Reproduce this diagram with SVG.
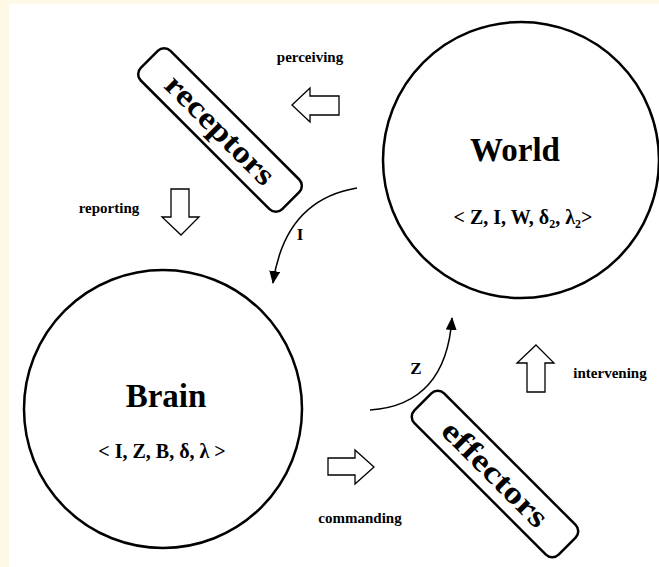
<svg xmlns="http://www.w3.org/2000/svg" width="659" height="567" viewBox="0 0 659 567">
<style>
.bg{fill:#fdf9e6}
.node{fill:#fff;stroke:#000;stroke-width:2.5}
.box{fill:#fff;stroke:#000;stroke-width:2.5}
.t{font-family:"Liberation Serif","Times New Roman",serif;font-weight:bold;fill:#000;text-anchor:middle}
.title{font-size:33px}
.sub{font-size:20px}
.boxt{font-size:31px}
.lab{font-size:15px}
.blk{fill:#fff;stroke:#000;stroke-width:1.3;stroke-linejoin:miter}
.arc{fill:none;stroke:#000;stroke-width:1.5}
</style>
<defs>
<marker id="ah" markerUnits="userSpaceOnUse" markerWidth="13" markerHeight="11" viewBox="0 0 13 11" refX="12" refY="5.5" orient="auto">
<path d="M0,0 L13,5.5 L0,11 Z" fill="#000"/>
</marker>
</defs>
<rect x="0" y="0" width="659" height="567" class="bg"/>
<rect x="9" y="4" width="650" height="563" fill="#fff"/>

<g id="world">
<circle cx="521" cy="160" r="138" class="node"/>
<text x="515" y="161" class="t title">World</text>
<text x="523" y="224" class="t sub" font-size="19px">&lt; Z, I, W, δ<tspan font-size="12" dy="4">2</tspan><tspan dy="-4">, λ</tspan><tspan font-size="12" dy="4">2</tspan><tspan dy="-4">&gt;</tspan></text>
</g>

<g id="brain">
<circle cx="163" cy="409" r="139" class="node"/>
<text x="166" y="407" class="t title">Brain</text>
<text x="162" y="458" class="t sub">&lt; I, Z, B, δ, λ &gt;</text>
</g>

<g id="receptors">
<g transform="translate(220,130) rotate(45)">
<rect x="-100" y="-21" width="200" height="42" rx="9" class="box"/>
<text x="0" y="10" class="t boxt" textLength="142" lengthAdjust="spacingAndGlyphs">receptors</text>
</g>
</g>

<g id="effectors">
<g transform="translate(495,474) rotate(45)">
<rect x="-102" y="-21" width="204" height="42" rx="9" class="box"/>
<text x="0" y="10" class="t boxt" textLength="137" lengthAdjust="spacingAndGlyphs">effectors</text>
</g>
</g>

<g id="connectors">
<path class="arc" d="M357,188 Q285,200 273,283" marker-end="url(#ah)"/>
<text x="300" y="240" class="t" font-size="17px">I</text>
<path class="arc" d="M370,410 Q446,405 452,318" marker-end="url(#ah)"/>
<text x="416" y="374" class="t" font-size="17px">Z</text>

<polygon class="blk" points="292,105 310,88 310,96 339,96 339,115 310,115 310,122"/>
<polygon class="blk" points="171,189 189,189 189,217 199,217 181,235 162,217 171,217"/>
<polygon class="blk" points="328,458 355,458 355,450 374,467 355,484 355,475 328,475"/>
<polygon class="blk" points="536,345 554,363 545,363 545,392 527,392 527,363 517,363"/>

<text x="310" y="62" class="t lab">perceiving</text>
<text x="109" y="213" class="t lab">reporting</text>
<text x="360" y="523" class="t lab">commanding</text>
<text x="610" y="378" class="t lab">intervening</text>
</g>
</svg>
